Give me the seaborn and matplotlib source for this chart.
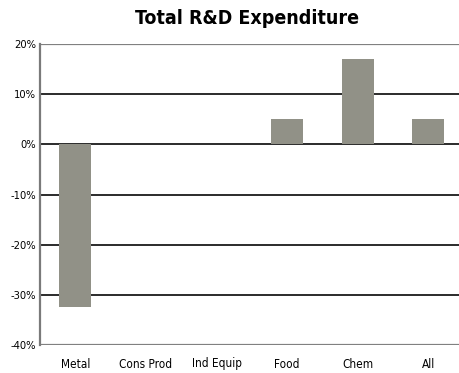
import matplotlib
matplotlib.use("Agg")
import matplotlib.pyplot as plt
import seaborn as sns
import pandas as pd

categories = ["Metal", "Cons Prod", "Ind Equip", "Food", "Chem", "All"]
values = [-32.5, 0.0, 0.0, 5.0, 17.0, 5.0]
ytick_vals = [-40, -30, -20, -10, 0, 10, 20]
ytick_labels = [f"{v}%" for v in ytick_vals]

df = pd.DataFrame({"sector": categories, "change": values})

sns.set_theme(style="white")
plt.rcParams["font.family"] = ["DejaVu Sans"]
plt.rcParams["text.color"] = "black"
plt.rcParams["xtick.color"] = "black"
plt.rcParams["ytick.color"] = "black"

fig = plt.figure(figsize=(4.59, 3.73), dpi=100)
ax = fig.add_axes([40 / 459, 28 / 373, 419 / 459, 301 / 373])

# horizontal reference lines behind the bars
for v in ytick_vals:
    edge = v in (-40, 20)
    ax.axhline(v, color="#808080" if edge else "#1a1a1a",
               lw=1.6 if edge else 1.3, zorder=0)

sns.barplot(data=df, x="sector", y="change", color="#919187",
            saturation=1, width=0.45, errorbar=None, ax=ax, zorder=2,
            linewidth=0, edgecolor="none")

ax.set_ylim(-40, 20)
ax.set_xlim(-0.5, -0.5 + 419 / 70.6)
ax.set_yticks(ytick_vals)
ax.set_yticklabels(ytick_labels, fontsize=8, fontstretch="condensed")
ax.set_xticks(range(len(categories)))
ax.set_xticklabels(categories, fontsize=8.5, fontstretch="condensed")
ax.tick_params(axis="y", length=0, pad=3, labelcolor="black")
ax.tick_params(axis="x", length=0, pad=9, labelcolor="black")
ax.set_xlabel("")
ax.set_ylabel("")

for side in ("top", "right", "bottom"):
    ax.spines[side].set_visible(False)
ax.spines["left"].set_color("#7a7a7a")
ax.spines["left"].set_linewidth(1.6)

fig.text(247 / 459, 1 - 19 / 373, "Total R&D Expenditure", ha="center",
         va="center", fontsize=14, fontweight="bold", fontstretch="condensed",
         color="black")

fig.savefig("out.png", dpi=100)
